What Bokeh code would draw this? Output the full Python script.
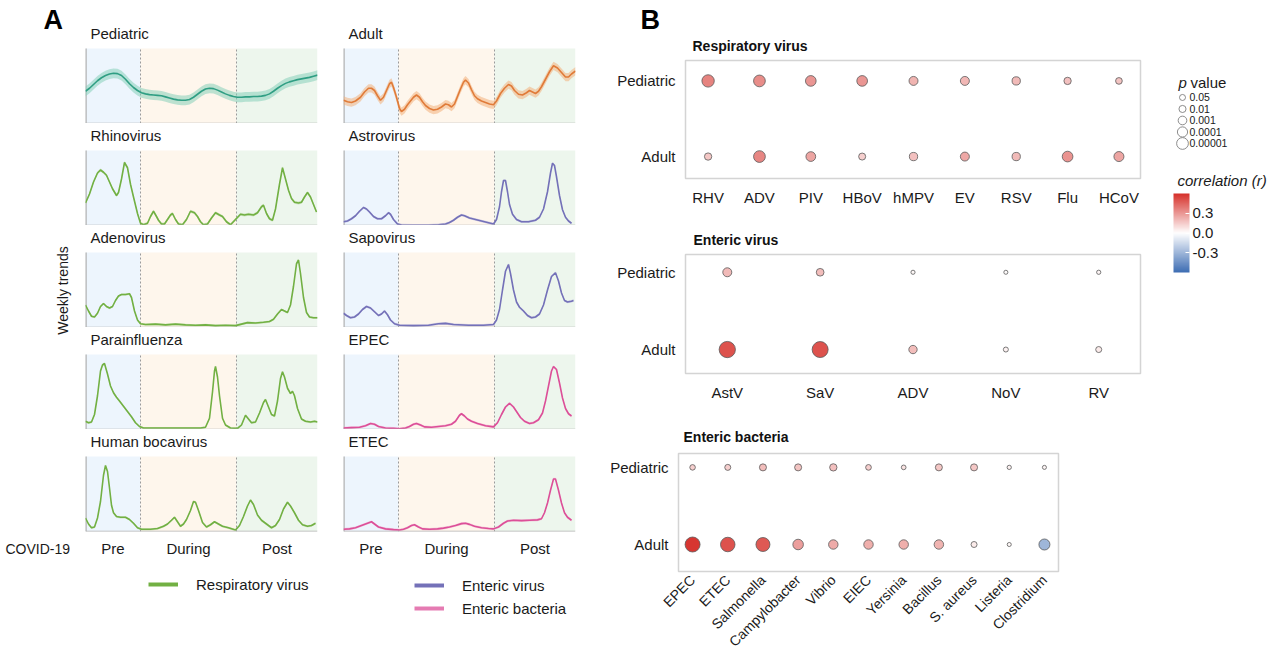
import math
import numpy as np
from bokeh.plotting import figure
from bokeh.layouts import row, column
from bokeh.models import (Range1d, BoxAnnotation, Span, Label, FixedTicker, Legend,
                          LegendItem, ColorBar, LinearColorMapper, ColumnDataSource,
                          Spacer, PrintfTickFormatter, Title)
from bokeh.transform import transform
from bokeh.core.properties import value
from bokeh.embed import file_html
from bokeh.resources import INLINE

FONT = "Liberation Sans"
TXT = "#1a1a1a"

# ================= Panel A : weekly trends (value = % of panel height) =================
period_labels = ["Pre", "During", "Post"]
period_edges = [0, 55, 151, 232]          # week index of period boundaries

pediatric = [(0,43),(4,47),(8,52),(12,57),(16,61),(20,64),(24,66),(28,67),(32,66.5),(36,64),(40,59),
             (44,53),(48,48),(52,44),(56,41),(60,39.5),(64,38.5),(68,38),(72,37.5),(76,37),(80,35.5),
             (84,34),(88,32.5),(92,31.5),(96,31),(100,31),(104,32),(108,35),(112,39),(116,43),(120,46),
             (124,47),(128,46.5),(132,44.5),(136,42),(140,39.5),(144,37.5),(148,36),(152,35),(156,35),
             (160,35.5),(164,35.5),(168,36),(172,36),(176,36.5),(180,37.5),(184,39.5),(188,43),(192,47),
             (196,50.5),(200,53.5),(204,55.5),(208,57),(212,58.5),(216,59.5),(220,60.5),(224,61.5),
             (228,63),(232,64.5)]
rhinovirus = [(0,30),(4,42),(8,58),(12,70),(15,74),(18,71),(21,67),(24,58),(27,49),(31,40),(33,44),
              (36,62),(39,84),(42,77),(45,55),(48,38),(52,16),(55,3),(58,1),(62,3),(65,12),(68,19),
              (71,12),(73,7),(76,2),(79,2),(82,8),(85,14),(87,16),(90,8),(93,2),(97,1),(101,8),(105,19),
              (109,17),(112,12),(115,5),(118,1),(122,2),(126,10),(130,17),(134,14),(137,12),(141,5),
              (145,1),(150,8),(155,15),(159,14),(163,15),(168,14),(172,17),(176,25),(178,27),(181,16),
              (184,9),(187,7),(190,22),(194,55),(197,77),(200,62),(203,47),(206,36),(209,31),(213,30),
              (216,31),(219,38),(222,44),(225,38),(228,28),(231,18)]
adenovirus = [(0,30),(3,22),(6,15),(9,14),(12,19),(15,28),(18,32),(21,28),(24,26),(27,28),(30,36),
              (33,42),(36,44),(40,44),(44,45),(46,40),(49,22),(52,10),(55,5),(60,4),(70,4.5),(80,3.5),
              (90,4.5),(100,3.5),(110,3),(120,3.5),(130,2.5),(140,3),(150,2.5),(156,4.5),(162,6.5),
              (170,6),(178,7),(184,8),(188,11),(192,18),(196,24),(199,22),(202,20),(205,30),(208,55),
              (211,85),(213,90),(215,72),(218,40),(221,20),(224,14),(228,13),(232,13)]
parainfluenza = [(0,11),(3,9),(6,10),(9,20),(12,45),(15,78),(17,86),(19,88),(22,74),(25,58),(28,49),
                 (31,43),(34,38),(38,31),(42,24),(46,17),(50,9),(54,4),(58,2),(80,2),(100,2),(115,2),
                 (120,3),(124,15),(127,50),(129,78),(130,84),(132,70),(134,45),(137,15),(140,6),(145,2),
                 (152,1.5),(156,6),(160,19),(163,14),(166,9),(170,10),(174,22),(178,36),(180,40),(183,30),
                 (186,20),(189,18),(192,38),(195,68),(197,77),(199,70),(202,55),(205,48),(207,51),
                 (209,45),(212,28),(216,14),(220,11),(225,10),(229,11),(232,10)]
bocavirus = [(0,18),(3,10),(6,5),(9,6),(12,18),(15,40),(18,75),(20,88),(22,80),(24,58),(26,35),(28,25),
             (31,20),(35,19),(40,19),(44,16),(48,11),(52,5),(56,3),(65,3),(72,4),(78,7),(82,10),(86,15),
             (89,19),(92,13),(95,7),(98,10),(101,16),(105,28),(108,40),(110,39),(113,28),(117,12),
             (121,6),(125,9),(129,13),(133,10),(137,7),(143,5),(150,2),(154,8),(158,20),(162,34),
             (165,42),(168,36),(172,22),(176,15),(180,11),(186,5),(190,8),(194,16),(198,30),(202,39),
             (205,34),(209,25),(213,15),(217,9),(222,7),(226,8),(230,11)]
adult = [(0,31),(4,29),(8,28),(12,30),(17,35),(21,42),(25,47),(28,47),(31,44),(34,37),(37,31),(40,35),
         (43,44),(46,53),(48,55),(50,48),(53,35),(56,20),(58,16),(61,19),(64,25),(67,30),(70,35),(73,38),
         (76,35),(79,29),(82,24),(86,20),(90,18),(94,19),(98,22),(102,26),(105,25),(108,22),(111,26),
         (114,36),(117,46),(120,55),(122,58),(125,54),(128,45),(131,37),(134,33),(138,30),(142,28),
         (146,26),(150,25),(153,30),(157,40),(161,47),(165,52),(168,50),(171,44),(175,39),(179,38),
         (183,41),(186,44),(189,42),(192,40),(195,43),(198,49),(202,59),(206,69),(210,77),(214,74),
         (218,68),(222,62),(225,62),(228,66),(232,70)]
astrovirus = [(0,5),(4,6),(8,9),(12,13),(16,19),(20,24),(23,22),(26,18),(30,12),(34,9),(38,9),(42,13),
              (45,17),(47,15),(50,8),(54,2),(58,0.5),(70,0.3),(85,0.3),(95,1),(102,2),(106,4),(110,7),
              (114,11),(118,14),(121,13),(126,10),(132,8),(138,6),(144,4),(150,2),(153,8),(156,25),
              (158,45),(160,60),(162,60),(164,45),(166,28),(169,15),(173,8),(178,5),(185,5),(192,7),
              (196,11),(200,22),(204,45),(207,70),(209,83),(211,80),(213,65),(216,40),(219,21),(222,11),
              (225,6),(228,3)]
sapovirus = [(0,19),(3,16),(7,13),(11,14),(15,18),(19,24),(23,28),(27,26),(31,21),(35,16),(38,18),
             (41,22),(44,17),(47,10),(51,5),(56,3),(70,2.5),(85,3),(95,5),(102,5.5),(110,4),(125,3),
             (140,3),(150,4),(153,10),(156,24),(159,50),(162,75),(165,84),(167,72),(170,50),(173,34),
             (176,27),(180,22),(184,16),(188,13),(192,14),(196,18),(200,30),(204,50),(208,68),(212,73),
             (215,62),(218,46),(221,36),(224,34),(228,35),(230,36)]
epec = [(0,2),(8,2.5),(16,3),(22,5),(27,8),(31,7),(35,4),(42,2),(50,1.5),(56,1),(62,2),(66,4),(70,7),
        (73,8),(77,6),(81,3.5),(88,3),(95,4),(102,5),(108,7),(112,11),(116,19),(118,21),(121,18),
        (124,14),(128,11),(134,8),(142,5),(150,3.5),(154,9),(158,20),(162,30),(166,35),(170,30),(173,24),
        (177,16),(181,11),(186,8),(190,9),(195,13),(199,22),(202,38),(205,58),(208,78),(210,84),(213,80),
        (216,62),(219,42),(222,28),(225,21),(228,18)]
etec = [(0,3),(6,3.5),(12,5),(18,8),(24,11),(28,13),(31,10),(35,6),(42,3.5),(50,2.5),(56,2),(60,3),
        (64,5),(68,8),(71,9),(75,6),(79,3.5),(86,3),(94,3.5),(100,4.5),(106,6),(112,8),(118,10.5),
        (122,11),(126,9.5),(131,7),(138,5),(145,4),(150,3.5),(155,6),(160,11),(164,14),(170,15),
        (178,14.5),(186,15),(194,15.5),(198,17),(201,25),(204,38),(207,55),(210,70),(212,70),(215,55),
        (218,38),(221,25),(224,19),(228,15)]

left_titles = ["Pediatric", "Rhinovirus", "Adenovirus", "Parainfluenza", "Human bocavirus"]
left_series = [pediatric, rhinovirus, adenovirus, parainfluenza, bocavirus]
left_kinds = ["ped", "resp", "resp", "resp", "resp"]
left_band = [6.5, 2.0, 1.5, 1.5, 1.5]
right_titles = ["Adult", "Astrovirus", "Sapovirus", "EPEC", "ETEC"]
right_series = [adult, astrovirus, sapovirus, epec, etec]
right_kinds = ["adult", "ev", "ev", "eb", "eb"]
right_band = [5.5, 1.8, 1.8, 1.8, 1.8]

legend_labels = ["Respiratory virus", "Enteric virus", "Enteric bacteria"]

# ================= Panel B : correlations =================
groups = ["Adult", "Pediatric"]
resp_cats = ["RHV", "ADV", "PIV", "HBoV", "hMPV", "EV", "RSV", "Flu", "HCoV"]
resp_r_ped = [0.36, 0.33, 0.30, 0.30, 0.22, 0.21, 0.20, 0.18, 0.17]
resp_p_ped = [4e-6, 1e-5, 5e-5, 5e-5, 6e-4, 6e-4, 1.7e-3, 7e-3, 0.018]
resp_r_adult = [0.16, 0.35, 0.26, 0.14, 0.18, 0.25, 0.20, 0.31, 0.26]
resp_p_adult = [7e-3, 1e-5, 2e-4, 0.011, 1.7e-3, 6e-4, 1.7e-3, 5e-5, 1.3e-4]

ent_cats = ["AstV", "SaV", "ADV", "NoV", "RV"]
ent_r_ped = [0.20, 0.19, 0.02, 0.01, 0.03]
ent_p_ped = [6e-4, 4e-3, 0.8, 0.9, 0.7]
ent_r_adult = [0.50, 0.50, 0.19, 0.04, 0.06]
ent_p_adult = [1.2e-8, 1.8e-8, 1.6e-3, 0.22, 0.05]

bac_cats = ["EPEC", "ETEC", "Salmonella", "Campylobacter", "Vibrio", "EIEC", "Yersinia",
            "Bacillus", "S. aureus", "Listeria", "Clostridium"]
bac_r_ped = [0.14, 0.14, 0.19, 0.17, 0.18, 0.14, 0.08, 0.16, 0.16, 0.04, 0.03]
bac_p_ped = [0.1, 0.05, 0.011, 0.011, 7e-3, 0.08, 0.35, 0.011, 0.011, 0.65, 0.9]
bac_r_adult = [0.58, 0.50, 0.48, 0.28, 0.24, 0.23, 0.23, 0.22, 0.06, 0.02, -0.30]
bac_p_adult = [8e-8, 1.7e-7, 3.5e-7, 6e-5, 3e-4, 3e-4, 3e-4, 3e-4, 0.05, 0.9, 3e-5]

pval_legend = [0.05, 0.01, 0.001, 0.0001, 0.00001]
pval_legend_labels = ["0.05", "0.01", "0.001", "0.0001", "0.00001"]
r_limits = (-0.6, 0.6)
r_ticks = [-0.3, 0.0, 0.3]

# ================= styles =================
STYLE = {"ped": ("#2f9e83", "#86cfba"), "adult": ("#e07b39", "#f3b07c"),
         "resp": ("#72b043", "#b2d99a"), "ev": ("#7471b8", "#b8b6df"),
         "eb": ("#dc4f98", "#f1a6cc")}
BG = ["#edf5fd", "#fef6ec", "#edf6ed"]


def dot_size(p):
    return 4 + 1.55 * (-math.log10(p))


def hex2rgb(h):
    return np.array([int(h[i:i + 2], 16) for i in (1, 3, 5)], dtype=float)


anchors = [hex2rgb("#3d6db3"), hex2rgb("#ffffff"), hex2rgb("#d6302a")]
palette = []
for i in range(256):
    t = i / 255
    if t < 0.5:
        c = anchors[0] + (anchors[1] - anchors[0]) * (t / 0.5)
    else:
        c = anchors[1] + (anchors[2] - anchors[1]) * ((t - 0.5) / 0.5)
    palette.append("#%02x%02x%02x" % tuple(int(round(v)) for v in c))
mapper = LinearColorMapper(palette=palette, low=r_limits[0], high=r_limits[1])


def bare(p):
    p.outline_line_color = None
    p.grid.visible = False
    return p


CELL_H, PLOT_H = 102, 75        # cell height incl. title strip, and plotting height (px)
Y_TOP = 100.0                    # data value at top of the plotting area


def cell(title, pts, kind, hw, left_col, bottom):
    w = [a for a, _ in pts]
    v = np.array([b for _, b in pts], dtype=float)
    line_c, band_c = STYLE[kind]
    p = figure(width=250 if left_col else 270, height=CELL_H + (30 if bottom else 0),
               x_range=Range1d(period_edges[0], period_edges[-1]),
               y_range=Range1d(0, Y_TOP * CELL_H / PLOT_H),
               min_border_left=5 if left_col else 13, min_border_right=13 if left_col else 25,
               min_border_top=0, min_border_bottom=30 if bottom else 0,
               x_axis_location="below" if bottom else None, y_axis_location=None,
               toolbar_location=None, output_backend="svg")
    bare(p)
    for i in range(3):
        p.add_layout(BoxAnnotation(left=period_edges[i], right=period_edges[i + 1], bottom=0, top=Y_TOP,
                                   fill_color=BG[i], fill_alpha=1, line_color=None, level="underlay"))
    inner = period_edges[1:-1]
    p.segment(x0=inner, y0=[0] * len(inner), x1=inner, y1=[Y_TOP] * len(inner),
              line_color="#9a9a9a", line_dash="2 2", line_width=1)
    p.segment(x0=[period_edges[0]], y0=[0], x1=[period_edges[0]], y1=[Y_TOP],
              line_color="#b3b3b3", line_width=2.5)
    p.add_layout(Span(location=0, dimension="width", line_color="#b3b3b3", line_width=1.5))
    p.varea(x=w, y1=v - hw, y2=v + hw, fill_color=band_c, fill_alpha=0.55)
    p.line(x=w, y=v, line_color=line_c, line_width=1.6)
    p.add_layout(Label(x=5, y=PLOT_H + 15, x_units="screen", y_units="screen", text=title,
                       text_font=FONT, text_font_size="15px", text_baseline="middle", text_color=TXT))
    if bottom:
        centers = [(period_edges[i] + period_edges[i + 1]) / 2 for i in range(3)]
        p.xaxis.ticker = FixedTicker(ticks=centers)
        p.xaxis.major_label_overrides = {c: l for c, l in zip(centers, period_labels)}
        p.xaxis.axis_line_color = None
        p.xaxis.major_tick_line_color = None
        p.xaxis.minor_tick_line_color = None
        p.xaxis.major_tick_out = 0
        p.xaxis.major_tick_in = 0
        p.xaxis.major_label_standoff = 8
        p.xaxis.major_label_text_font = FONT
        p.xaxis.major_label_text_font_size = "15px"
        p.xaxis.major_label_text_color = TXT
        p.grid.visible = False
    return p


cells_left = [cell(t, s, k, b, True, i == 4)
              for i, (t, s, k, b) in enumerate(zip(left_titles, left_series, left_kinds, left_band))]
cells_right = [cell(t, s, k, b, False, i == 4)
               for i, (t, s, k, b) in enumerate(zip(right_titles, right_series, right_kinds, right_band))]

# gutter with panel letter, y label and COVID-19 label
gut = bare(figure(width=80, height=659, x_range=Range1d(0, 80), y_range=Range1d(0, 659), min_border=0,
                  x_axis_location=None, y_axis_location=None, toolbar_location=None, output_backend="svg"))
gut.add_layout(Label(x=43, y=640, x_units="screen", y_units="screen", text="A", text_font=FONT,
                     text_font_size="27px", text_font_style="bold", text_baseline="middle", text_color="#000"))
gut.add_layout(Label(x=62, y=369, x_units="screen", y_units="screen", text="Weekly trends",
                     angle=math.pi / 2, text_font=FONT, text_font_size="14px", text_align="center",
                     text_baseline="middle", text_color=TXT))
gut.add_layout(Label(x=5, y=111, x_units="screen", y_units="screen", text="COVID-19", text_font=FONT,
                     text_font_size="14px", text_baseline="middle", text_color=TXT))

# legend strip below panel A
lf = bare(figure(width=520, height=98, x_range=Range1d(0, 1), y_range=Range1d(0, 1), min_border=0,
                 x_axis_location=None, y_axis_location=None, toolbar_location=None, output_backend="svg"))
r_resp = lf.line(x=[np.nan], y=[np.nan], line_color=STYLE["resp"][0], line_width=4)
r_ev = lf.line(x=[np.nan], y=[np.nan], line_color=STYLE["ev"][0], line_width=4)
r_eb = lf.line(x=[np.nan], y=[np.nan], line_color=STYLE["eb"][0], line_width=4, line_alpha=0.75)


def mk_legend(items, loc):
    lg = Legend(items=items, location=loc, border_line_color=None, background_fill_alpha=0,
                padding=0, margin=0, spacing=3, glyph_height=20, glyph_width=30, label_height=20,
                label_standoff=18, label_text_font=FONT, label_text_font_size="15px",
                label_text_color=TXT)
    lf.add_layout(lg, "center")


mk_legend([LegendItem(label=legend_labels[0], renderers=[r_resp])], (68, 65))
mk_legend([LegendItem(label=legend_labels[1], renderers=[r_ev]),
           LegendItem(label=legend_labels[2], renderers=[r_eb])], (334, 41))


# ================= panel B figures =================
def dot_panel(title, cats, r_ped, p_ped, r_adult, p_adult, fw, fh, bl, br, bt, bb, xr, yr,
              toff, rotate, tstand):
    n = len(cats)
    src = ColumnDataSource(dict(
        x=list(range(n)) * 2,
        y=[groups.index("Pediatric")] * n + [groups.index("Adult")] * n,
        r=list(r_ped) + list(r_adult),
        size=[dot_size(v) for v in list(p_ped) + list(p_adult)],
    ))
    p = figure(width=bl + fw + br, height=bt + fh + bb, x_range=Range1d(*xr), y_range=Range1d(*yr),
               min_border_left=bl, min_border_right=br, min_border_top=bt, min_border_bottom=bb,
               toolbar_location=None, output_backend="svg")
    p.add_layout(Title(text=title, text_font=FONT, text_font_size="14px", text_font_style="bold",
                       text_color="#111", align="left", offset=toff, standoff=tstand,
                       vertical_align="top"), "above")
    p.grid.visible = False
    p.outline_line_color = "#d4d4d4"
    p.outline_line_width = 1.5
    p.scatter(x="x", y="y", size="size", source=src, fill_color=transform("r", mapper),
              line_color="#5a5a5a", line_width=0.8)
    p.xaxis.ticker = FixedTicker(ticks=list(range(n)))
    p.xaxis.major_label_overrides = {i: c for i, c in enumerate(cats)}
    p.yaxis.ticker = FixedTicker(ticks=list(range(len(groups))))
    p.yaxis.major_label_overrides = {i: g for i, g in enumerate(groups)}
    for ax in (p.xaxis, p.yaxis):
        ax.axis_line_color = None
        ax.major_tick_line_color = None
        ax.minor_tick_line_color = None
        ax.major_tick_out = 0
        ax.major_tick_in = 0
        ax.major_label_text_font = FONT
        ax.major_label_text_font_size = "15px"
        ax.major_label_text_color = TXT
        ax.major_label_standoff = 10
    if rotate:
        p.xaxis.major_label_orientation = math.pi / 4
        p.xaxis.major_label_text_font_size = "14px"
        p.xaxis.major_label_standoff = 6
    return p


fig_resp = dot_panel("Respiratory virus", resp_cats, resp_r_ped, resp_p_ped, resp_r_adult, resp_p_adult,
                     455, 118, 85, 10, 60, 35, (-0.44, 8.42), (-0.29, 1.27), 7, False, 9)
fig_resp.title.text = "B"
fig_resp.title.text_font = FONT
fig_resp.title.text_font_size = "27px"
fig_resp.title.text_font_style = "bold"
fig_resp.title.text_color = "#000"
fig_resp.title.align = "left"
fig_resp.title.offset = -45
fig_resp.title.standoff = -2
fig_ent = dot_panel("Enteric virus", ent_cats, ent_r_ped, ent_p_ped, ent_r_adult, ent_p_adult,
                    455, 119, 85, 10, 41, 35, (-0.45, 4.45), (-0.31, 1.23), 8, False, 10)
fig_bac = dot_panel("Enteric bacteria", bac_cats, bac_r_ped, bac_p_ped, bac_r_adult, bac_p_adult,
                    380, 118, 78, 92, 45, 88, (-0.4, 10.4), (-0.35, 1.18), 5, True, 14)

# p value legend + colour bar title
pf = bare(figure(width=119, height=128, x_range=Range1d(0, 119), y_range=Range1d(8.35, -2.78), min_border=0,
                 x_axis_location=None, y_axis_location=None, toolbar_location=None, output_backend="svg"))
idx = list(range(len(pval_legend)))
pf.scatter(x=[32] * len(idx), y=idx, size=[dot_size(v) for v in pval_legend], fill_color="white",
           line_color="#707070", line_width=0.8)
pf.text(x=[39] * len(idx), y=idx, text=pval_legend_labels, text_font=value(FONT),
        text_font_size="10.5px", text_baseline="middle", text_color=TXT)
pf.text(x=[28], y=[-1.3], text=["p"], text_font=value(FONT), text_font_size="15px",
        text_font_style="italic", text_baseline="middle", text_color=TXT)
pf.text(x=[40], y=[-1.3], text=["value"], text_font=value(FONT), text_font_size="15px",
        text_baseline="middle", text_color=TXT)
pf.text(x=[27], y=[7.22], text=["correlation (r)"], text_font=value(FONT), text_font_size="15px",
        text_font_style="italic", text_baseline="middle", text_color=TXT)

# colour bar
cf = bare(figure(width=119, height=100, x_range=Range1d(0, 1), y_range=Range1d(0, 1), min_border_left=23,
                 min_border_right=0, min_border_top=0, min_border_bottom=0,
                 x_axis_location=None, y_axis_location=None, toolbar_location=None, output_backend="svg"))
cb = ColorBar(color_mapper=mapper, location="top_left", margin=0, padding=0, width=16, height=79,
              ticker=FixedTicker(ticks=r_ticks), formatter=PrintfTickFormatter(format="%.1f"),
              major_label_text_font=FONT, major_label_text_font_size="15px",
              major_label_text_color=TXT, label_standoff=3, major_tick_line_color="white",
              major_tick_in=4, major_tick_out=0, minor_tick_line_color=None, bar_line_color=None,
              background_fill_alpha=0)
cf.add_layout(cb, "center")

colL = column(Spacer(width=250, height=21), *cells_left, spacing=0)
colR = column(Spacer(width=270, height=21), *cells_right, spacing=0)
panelA = column(row(colL, colR, spacing=0), lf, spacing=0)
panelB = column(row(fig_resp), row(fig_ent), row(fig_bac), spacing=0)
legcol = column(Spacer(width=119, height=65), row(pf), row(cf), spacing=0)
layout = row(gut, panelA, panelB, legcol, spacing=0)

open("out.html", "w").write(file_html(layout, INLINE))
